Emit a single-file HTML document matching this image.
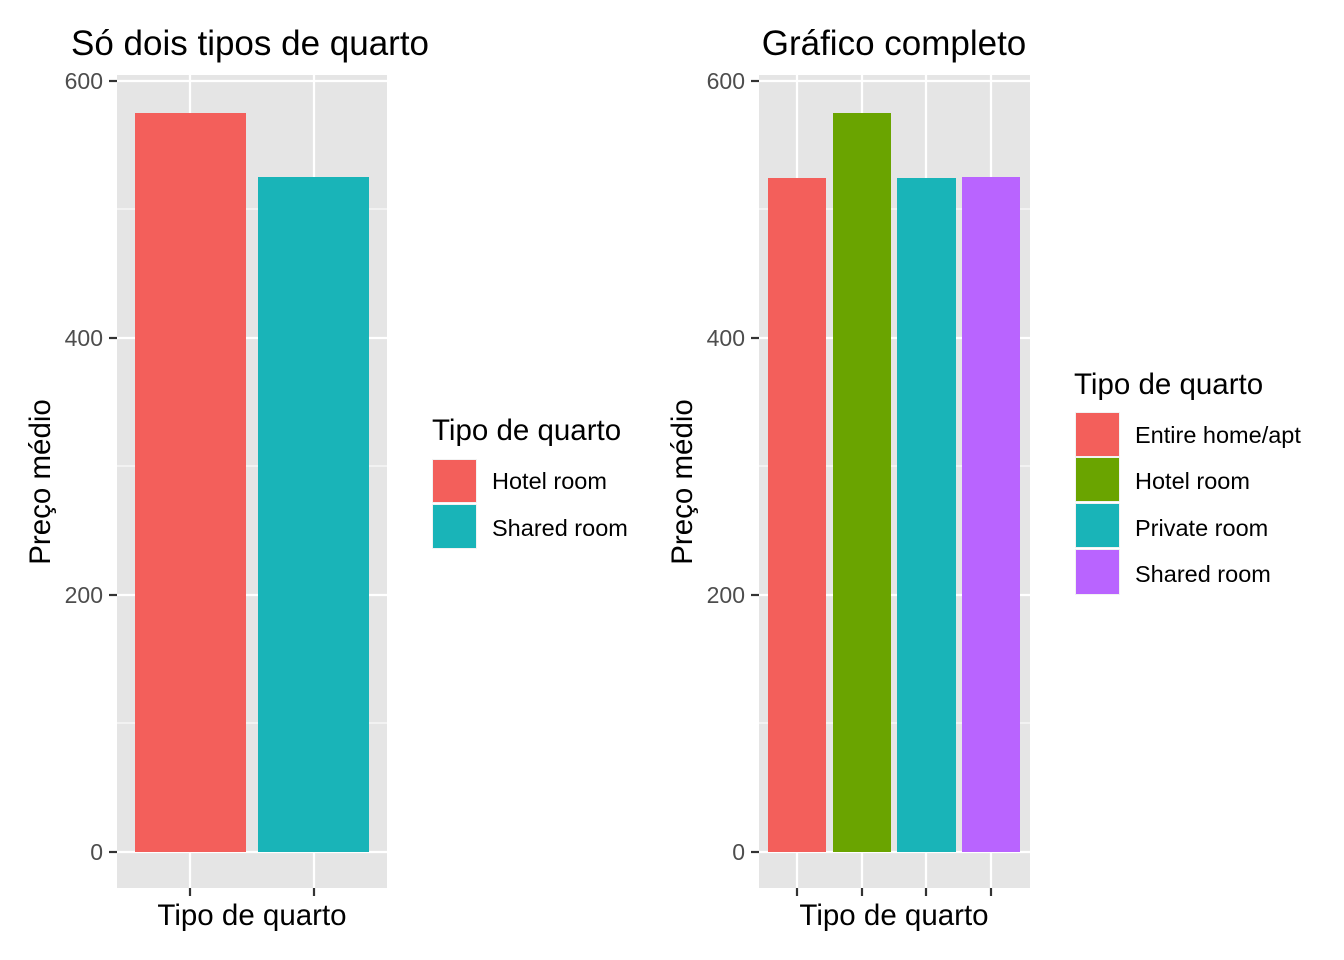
<!DOCTYPE html>
<html><head><meta charset="utf-8"><style>body{margin:0;background:#fff}svg{display:block}text{font-family:"Liberation Sans",Arial,sans-serif}</style></head><body>
<svg width="1344" height="960" viewBox="0 0 1344 960">
<!-- LEFT PANEL -->
<rect x="117" y="75" width="270" height="813" fill="#e5e5e5"/>
<g stroke="#fff" stroke-width="1.1">
<line x1="117" x2="387" y1="723" y2="723"/><line x1="117" x2="387" y1="466" y2="466"/><line x1="117" x2="387" y1="209" y2="209"/>
</g>
<g stroke="#fff" stroke-width="2.2">
<line x1="117" x2="387" y1="852" y2="852"/><line x1="117" x2="387" y1="595" y2="595"/><line x1="117" x2="387" y1="338" y2="338"/><line x1="117" x2="387" y1="81" y2="81"/>
<line x1="190" x2="190" y1="75" y2="888"/><line x1="314" x2="314" y1="75" y2="888"/>
</g>
<rect x="135" y="113" width="111" height="739" fill="#f35f5b"/>
<rect x="258" y="177" width="111" height="675" fill="#19b4b8"/>
<g stroke="#333" stroke-width="2.2">
<line x1="109" x2="117" y1="852" y2="852"/><line x1="109" x2="117" y1="595" y2="595"/><line x1="109" x2="117" y1="338" y2="338"/><line x1="109" x2="117" y1="81" y2="81"/>
<line x1="190" x2="190" y1="888" y2="896"/><line x1="314" x2="314" y1="888" y2="896"/>
</g>
<g fill="#4d4d4d" text-anchor="end" style="font-size:23px">
<text x="103" y="860">0</text><text x="103" y="603">200</text><text x="103" y="346">400</text><text x="103" y="89">600</text>
</g>
<text x="252" y="925" text-anchor="middle" style="font-size:29.5px">Tipo de quarto</text>
<text transform="translate(50,482) rotate(-90)" text-anchor="middle" style="font-size:29.5px">Preço médio</text>
<text x="71" y="55" style="font-size:35px">Só dois tipos de quarto</text>
<text x="432" y="440" style="font-size:29.5px">Tipo de quarto</text>
<rect x="432" y="459" width="45" height="44" fill="#f2f2f2"/><rect x="433" y="460" width="43" height="42" fill="#f35f5b"/>
<rect x="432" y="504" width="45" height="45" fill="#f2f2f2"/><rect x="433" y="505" width="43" height="43" fill="#19b4b8"/>
<text x="492" y="489" style="font-size:23.5px">Hotel room</text>
<text x="492" y="536" style="font-size:23.5px">Shared room</text>

<!-- RIGHT PANEL -->
<rect x="759" y="75" width="271" height="813" fill="#e5e5e5"/>
<g stroke="#fff" stroke-width="1.1">
<line x1="759" x2="1030" y1="723" y2="723"/><line x1="759" x2="1030" y1="466" y2="466"/><line x1="759" x2="1030" y1="209" y2="209"/>
</g>
<g stroke="#fff" stroke-width="2.2">
<line x1="759" x2="1030" y1="852" y2="852"/><line x1="759" x2="1030" y1="595" y2="595"/><line x1="759" x2="1030" y1="338" y2="338"/><line x1="759" x2="1030" y1="81" y2="81"/>
<line x1="797" x2="797" y1="75" y2="888"/><line x1="862" x2="862" y1="75" y2="888"/><line x1="926" x2="926" y1="75" y2="888"/><line x1="991" x2="991" y1="75" y2="888"/>
</g>
<rect x="768" y="178" width="58" height="674" fill="#f35f5b"/>
<rect x="833" y="113" width="58" height="739" fill="#6aa400"/>
<rect x="897" y="178" width="59" height="674" fill="#19b4b8"/>
<rect x="962" y="177" width="58" height="675" fill="#b964ff"/>
<g stroke="#333" stroke-width="2.2">
<line x1="751" x2="759" y1="852" y2="852"/><line x1="751" x2="759" y1="595" y2="595"/><line x1="751" x2="759" y1="338" y2="338"/><line x1="751" x2="759" y1="81" y2="81"/>
<line x1="797" x2="797" y1="888" y2="896"/><line x1="862" x2="862" y1="888" y2="896"/><line x1="926" x2="926" y1="888" y2="896"/><line x1="991" x2="991" y1="888" y2="896"/>
</g>
<g fill="#4d4d4d" text-anchor="end" style="font-size:23px">
<text x="745" y="860">0</text><text x="745" y="603">200</text><text x="745" y="346">400</text><text x="745" y="89">600</text>
</g>
<text x="894" y="925" text-anchor="middle" style="font-size:29.5px">Tipo de quarto</text>
<text transform="translate(692,482) rotate(-90)" text-anchor="middle" style="font-size:29.5px">Preço médio</text>
<text x="894" y="55" text-anchor="middle" style="font-size:35px">Gráfico completo</text>
<text x="1074" y="394" style="font-size:29.5px">Tipo de quarto</text>
<rect x="1075" y="412" width="45" height="45" fill="#f2f2f2"/><rect x="1076" y="413" width="43" height="43" fill="#f35f5b"/>
<rect x="1075" y="457" width="45" height="45" fill="#f2f2f2"/><rect x="1076" y="458" width="43" height="43" fill="#6aa400"/>
<rect x="1075" y="503" width="45" height="45" fill="#f2f2f2"/><rect x="1076" y="504" width="43" height="43" fill="#19b4b8"/>
<rect x="1075" y="549" width="45" height="46" fill="#f2f2f2"/><rect x="1076" y="550" width="43" height="44" fill="#b964ff"/>
<text x="1135" y="443" style="font-size:23.5px">Entire home/apt</text>
<text x="1135" y="489" style="font-size:23.5px">Hotel room</text>
<text x="1135" y="536" style="font-size:23.5px">Private room</text>
<text x="1135" y="582" style="font-size:23.5px">Shared room</text>
</svg>
</body></html>
